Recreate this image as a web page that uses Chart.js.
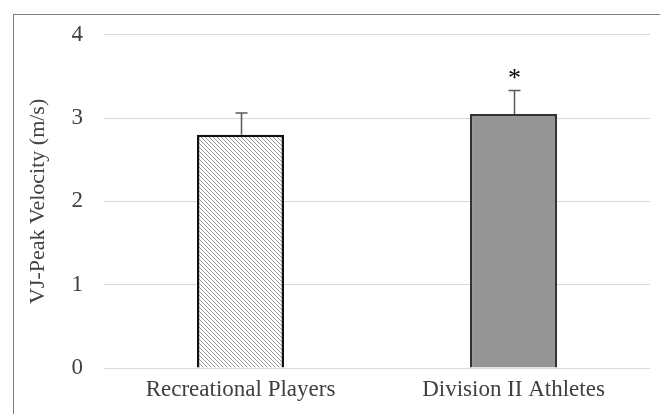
<!DOCTYPE html>
<html>
<head>
<meta charset="utf-8">
<script src="https://cdn.jsdelivr.net/npm/chart.js@4/dist/chart.umd.min.js"></script>
<style>
  html,body{margin:0;padding:0;background:#fff;}
  #wrap{width:660px;height:414px;position:relative;}
</style>
</head>
<body>
<div id="wrap"><canvas id="c" width="660" height="414"></canvas></div>
<script>
const categories = ['Recreational Players', 'Division II Athletes'];
const peakVelocity = [2.80, 3.05];
const sdValues = [0.26, 0.28];
const significance = ['', '*'];
const yTicks = [0, 1, 2, 3, 4];
const yTitle = 'VJ-Peak Velocity (m/s)';

function hatch() {
  const s = 4;
  const c = document.createElement('canvas');
  c.width = s; c.height = s;
  const g = c.getContext('2d');
  g.fillStyle = '#ffffff';
  g.fillRect(0, 0, s, s);
  g.strokeStyle = '#999999';
  g.lineWidth = 1;
  g.beginPath();
  g.moveTo(-1, -1); g.lineTo(s + 1, s + 1);
  g.moveTo(-1, s - 1); g.lineTo(1, s + 1);
  g.moveTo(s - 1, -1); g.lineTo(s + 1, 1);
  g.stroke();
  return g.createPattern(c, 'repeat');
}

const serif = "'Liberation Serif', 'Times New Roman', serif";

const frame = {
  id: 'frame',
  beforeDraw(chart) {
    const ctx = chart.ctx;
    ctx.save();
    ctx.strokeStyle = '#808080';
    ctx.lineWidth = 1;
    ctx.strokeRect(13.5, 14.5, 700, 500);
    ctx.restore();
  }
};

const errorBars = {
  id: 'errorBars',
  afterDatasetsDraw(chart) {
    const ctx = chart.ctx;
    const meta = chart.getDatasetMeta(0);
    const y = chart.scales.y;
    ctx.save();
    meta.data.forEach((bar, i) => {
      const x = Math.round(bar.x) + 0.5;
      const top = y.getPixelForValue(peakVelocity[i] + sdValues[i]);
      const base = y.getPixelForValue(peakVelocity[i]);
      ctx.strokeStyle = '#595959';
      ctx.lineWidth = 1.5;
      ctx.beginPath();
      ctx.moveTo(x, base);
      ctx.lineTo(x, top);
      ctx.moveTo(x - 6, top);
      ctx.lineTo(x + 6, top);
      ctx.stroke();
      if (significance[i]) {
        ctx.fillStyle = '#000000';
        ctx.font = '26px ' + serif;
        ctx.textAlign = 'center';
        ctx.textBaseline = 'middle';
        ctx.fillText(significance[i], x, top - 11);
      }
    });
    ctx.restore();
  }
};

new Chart(document.getElementById('c'), {
  type: 'bar',
  data: {
    labels: categories,
    datasets: [{
      data: peakVelocity,
      backgroundColor: [hatch(), '#959595'],
      borderColor: ['#111111', '#333333'],
      borderWidth: 2.5,
      borderSkipped: 'bottom',
      categoryPercentage: 1,
      barPercentage: 0.319
    }]
  },
  options: {
    responsive: false,
    animation: false,
    events: [],
    layout: { padding: { top: 32, right: 10, left: 0, bottom: 0 } },
    plugins: { legend: { display: false }, tooltip: { enabled: false } },
    scales: {
      x: {
        grid: { display: false, drawTicks: false },
        border: { display: false },
        ticks: { color: '#404040', font: { family: serif, size: 23 }, padding: 8 },
        afterFit(s) { s.height = 46; }
      },
      y: {
        min: 0, max: 4,
        afterBuildTicks(s) { s.ticks = yTicks.map(v => ({ value: v })); },
        grid: { color: '#d9d9d9', lineWidth: 1, drawTicks: false },
        border: { display: false },
        ticks: { color: '#404040', font: { family: serif, size: 23 }, padding: 21 },
        title: { display: true, text: yTitle, color: '#404040', font: { family: serif, size: 22 }, padding: { top: 25, bottom: 0 } },
        afterFit(s) { s.width = 104; }
      }
    }
  },
  plugins: [frame, errorBars]
});
</script>
</body>
</html>
